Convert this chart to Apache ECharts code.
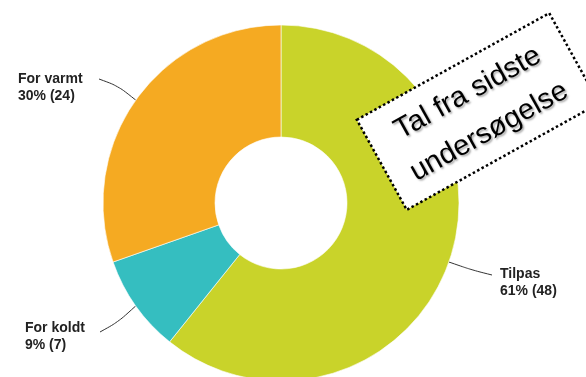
<!DOCTYPE html>
<html>
<head>
<meta charset="utf-8">
<script src="https://cdn.jsdelivr.net/npm/echarts@6/dist/echarts.min.js"></script>
<style>
  html, body { margin: 0; padding: 0; background: #fff; }
  #chart { width: 586px; height: 377px; }
</style>
</head>
<body>
<div id="chart"></div>
<script>
// Data
const categories = ['Tilpas', 'For koldt', 'For varmt'];
const counts = [48, 7, 24];
const sliceColors = ['#c9d32a', '#35bec0', '#f5aa22'];
const noteLines = ['Tal fra sidste', 'undersøgelse'];

const chart = echarts.init(document.getElementById('chart'));

// where each label sits (left edge, middle of the two lines) and where its line ends
const labelSpots = [
    { x: 500, y: 282.5, lineEnd: [492, 275], mid: [472, 270] },
    { x: 25, y: 337, lineEnd: [100, 332], mid: [118, 322] },
    { x: 18, y: 87.5, lineEnd: [99, 79], mid: [118, 86] }
];

chart.setOption({
    animation: false,
    backgroundColor: '#fff',
    series: [{
        type: 'pie',
        center: [281, 203],
        radius: [66, 178],
        startAngle: 90,
        clockwise: true,
        silent: true,
        itemStyle: { borderColor: 'rgba(255,255,255,0.6)', borderWidth: 1 },
        label: {
            show: true,
            formatter: p => p.name + '\n' + Math.round(p.percent) + '% (' + p.value + ')',
            fontFamily: 'Liberation Sans, Arial, sans-serif',
            fontWeight: 'bold',
            fontSize: 14,
            lineHeight: 17,
            color: '#222'
        },
        labelLine: {
            show: true,
            smooth: 0.3,
            lineStyle: { color: '#333', width: 1 }
        },
        labelLayout: params => {
            const s = labelSpots[params.dataIndex];
            const start = params.labelLinePoints ? params.labelLinePoints[0] : s.mid;
            return {
                x: s.x,
                y: s.y,
                align: 'left',
                verticalAlign: 'middle',
                labelLinePoints: [start, s.mid, s.lineEnd]
            };
        },
        data: categories.map((c, i) => ({
            name: c,
            value: counts[i],
            itemStyle: { color: sliceColors[i] }
        }))
    }],
    // the rotated note box on top of the chart
    graphic: [{
        type: 'group',
        x: 478,
        y: 111.5,
        z: 100,
        rotation: 29 * Math.PI / 180,
        children: [{
            type: 'rect',
            z: 100,
            shape: { x: -110, y: -51.5, width: 220, height: 103 },
            style: {
                fill: '#fff',
                stroke: '#000',
                lineWidth: 2.5,
                lineDash: [2.5, 2.5]
            }
        }, {
            type: 'text',
            z: 101,
            x: 0,
            y: 1,
            style: {
                text: noteLines.join('\n'),
                fontFamily: 'Liberation Sans, Arial, sans-serif',
                fontSize: 29,
                lineHeight: 44,
                fill: '#000',
                textAlign: 'center',
                textVerticalAlign: 'middle',
                textShadowColor: 'rgba(0,0,0,0.35)',
                textShadowBlur: 2,
                textShadowOffsetX: 1.5,
                textShadowOffsetY: 1.5
            }
        }]
    }]
});
</script>
</body>
</html>
